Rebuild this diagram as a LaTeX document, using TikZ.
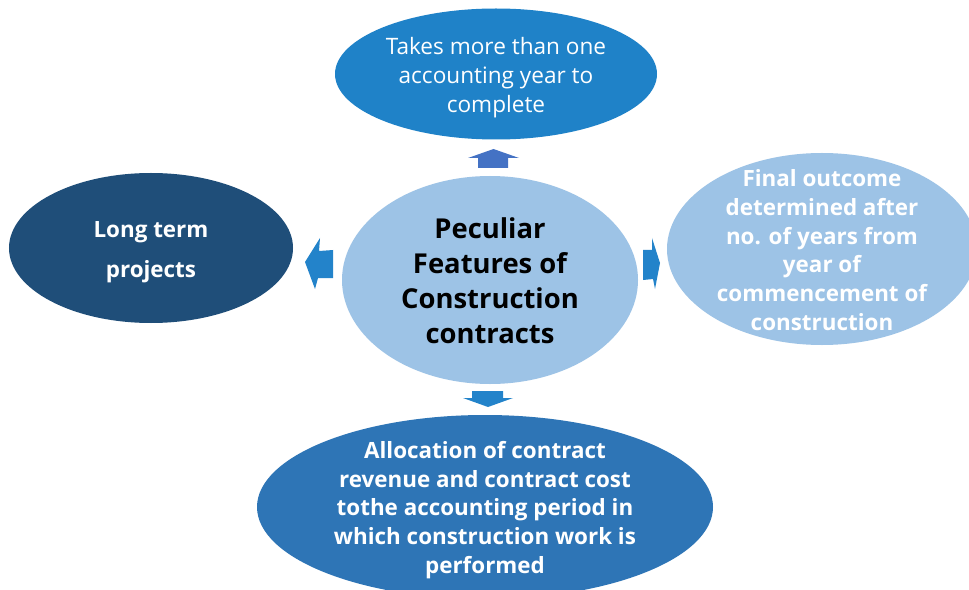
\documentclass[tikz,border=0pt]{standalone}
\usepackage{fontspec}
\setmainfont{Open Sans}
\usetikzlibrary{shapes.geometric}
\definecolor{cTop}{HTML}{1F82C8}
\definecolor{cLeft}{HTML}{1F4E79}
\definecolor{cLight}{HTML}{9DC3E6}
\definecolor{cBottom}{HTML}{2E75B6}
\definecolor{cArrUp}{HTML}{4472C4}
\definecolor{cArr}{HTML}{2383CA}
\tikzset{
  blob/.style={ellipse, inner sep=0pt, align=center},
  wtext/.style={text=white, font=\fontsize{22.4bp}{28.7bp}\selectfont\bfseries},
  blockarrow/.style={fill=cArr, draw=none},
}
\begin{document}
\begin{tikzpicture}[x=1bp,y=-1bp]
\useasboundingbox (0,0) rectangle (969,590);
\clip (0,0) rectangle (969,590);
\fill[white] (0,0) rectangle (969,590);
% ellipses
\node[blob, fill=cTop, minimum width=322bp, minimum height=131bp] (top) at (496,74) {};
\node[text=white, align=center, inner sep=0pt, font=\fontsize{22.6bp}{29bp}\selectfont] (toptext) at (496,78)
  {Takes more than one\\accounting year to\\complete};
\node[blob, fill=cLeft, minimum width=284bp, minimum height=150bp] (left) at (151,248) {};
\node[align=center, inner sep=0pt, text=white, font=\fontsize{22.4bp}{40bp}\selectfont\bfseries] (lefttext) at (151,252)
  {Long term\\projects};
\node[blob, fill=cLight, minimum width=310bp, minimum height=192bp] (right) at (822,249) {};
\node[align=center, inner sep=0pt, wtext] (righttext) at (822,250)
  {Final outcome\\determined after\\no. of years from\\year of\\commencement of\\construction};
\node[blob, fill=cBottom, minimum width=456bp, minimum height=184bp] (bottom) at (485,507) {};
\node[align=center, inner sep=0pt, wtext] (bottomtext) at (485,510)
  {Allocation of contract\\revenue and contract cost\\tothe accounting period in\\which construction work is\\performed};
\node[blob, fill=cLight, minimum width=296bp, minimum height=208bp] (center) at (490,280) {};
\node[align=center, inner sep=0pt, text=black, font=\fontsize{27.4bp}{35bp}\selectfont\bfseries] (centertext) at (490,281)
  {Peculiar\\Features of\\Construction\\contracts};
% block arrows
\fill[cArrUp] (478,168) -- (478,158) -- (468,158) -- (493.5,149) -- (519,158) -- (508,158) -- (508,168) -- cycle;
\fill[blockarrow] (333,250) -- (319,251) -- (320,238) -- (305,262) -- (315,289) -- (318,278) -- (333,278) -- cycle;
\fill[blockarrow] (643,250) -- (652,250) -- (652,238) -- (660,263) -- (655,289) -- (653,279) -- (643,280) -- cycle;
\fill[blockarrow] (472,391) -- (503,391) -- (503,398) -- (513,398) -- (488,407) -- (463,398) -- (472,398) -- cycle;
\end{tikzpicture}
\end{document}
